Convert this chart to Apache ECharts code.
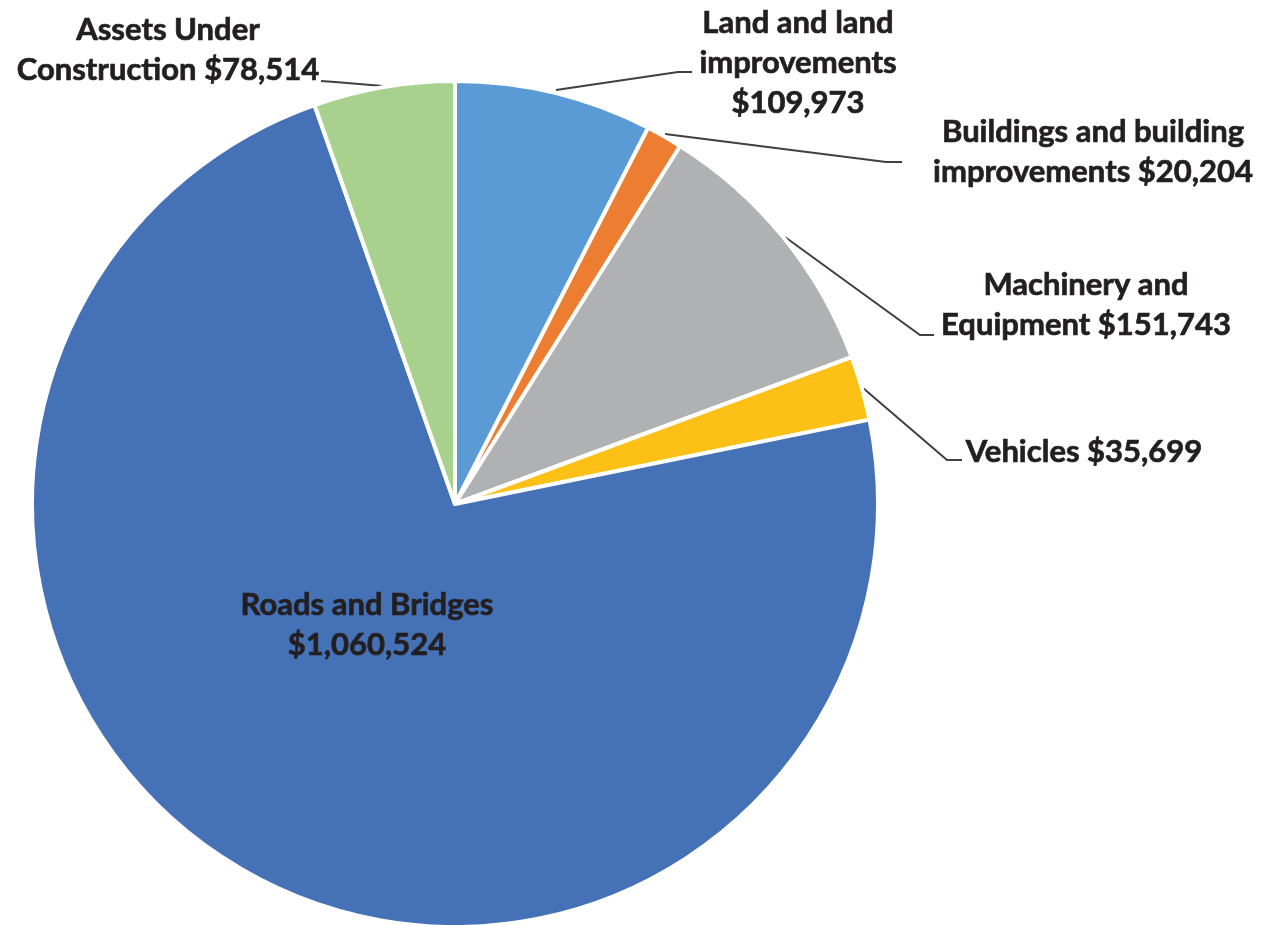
<!DOCTYPE html>
<html>
<head>
<meta charset="utf-8">
<script src="https://cdn.jsdelivr.net/npm/echarts@6/dist/echarts.min.js"></script>
<style>
html,body{margin:0;padding:0;background:#fff;}
#chart{width:1264px;height:925px;}
</style>
</head>
<body>
<div id="chart"></div>
<script>
// Data
const categories = [
  'Land and land improvements',
  'Buildings and building improvements',
  'Machinery and Equipment',
  'Vehicles',
  'Roads and Bridges',
  'Assets Under Construction'
];
const values = [109973, 20204, 151743, 35699, 1060524, 78514];
const labelTexts = [
  'Land and land\nimprovements\n$109,973',
  'Buildings and building\nimprovements $20,204',
  'Machinery and\nEquipment $151,743',
  'Vehicles $35,699',
  'Roads and Bridges\n$1,060,524',
  'Assets Under\nConstruction $78,514'
];
const colors = ['#5B9BD5', '#ED7D31', '#B0B1B3', '#FCC016', '#4572B7', '#A9D18E'];

// label placement (layout only)
const labelPos = [
  {x: 798, y: 63},
  {x: 1093, y: 152},
  {x: 1086, y: 305},
  {x: 1084, y: 452},
  {x: 367, y: 625},
  {x: 168, y: 50}
];
const leaderLines = [
  [[556, 90], [678, 72], [692, 72]],
  [[665, 134], [886, 162], [902, 162]],
  [[785, 237], [920, 335], [934, 335]],
  [[863, 388], [947, 460], [962, 460]],
  null,
  [[383, 86], [335, 82], [321, 81]]
];

const chart = echarts.init(document.getElementById('chart'), null, {renderer: 'canvas'});
chart.setOption({
  backgroundColor: '#ffffff',
  animation: false,
  series: [{
    type: 'pie',
    center: [455, 504],
    radius: [0, 423],
    startAngle: 90,
    clockwise: true,
    avoidLabelOverlap: false,
    data: categories.map((c, i) => ({
      name: c,
      value: values[i],
      itemStyle: {color: colors[i]},
      labelLine: {show: i !== 4}
    })),
    itemStyle: {borderColor: '#ffffff', borderWidth: 4},
    label: {
      show: true,
      position: 'outside',
      formatter: p => labelTexts[p.dataIndex],
      fontFamily: 'Lato',
      fontWeight: 'bold',
      fontSize: 31,
      lineHeight: 40,
      color: '#231F20',
      textBorderColor: '#231F20',
      textBorderWidth: 0.7,
      align: 'center'
    },
    labelLine: {
      show: true,
      length: 20,
      length2: 14,
      lineStyle: {color: '#404040', width: 2}
    },
    labelLayout: function (params) {
      const i = params.dataIndex;
      const p = labelPos[i];
      const r = {x: p.x, y: p.y, align: 'center', verticalAlign: 'middle'};
      if (leaderLines[i]) r.labelLinePoints = leaderLines[i];
      return r;
    }
  }]
});
</script>
</body>
</html>
